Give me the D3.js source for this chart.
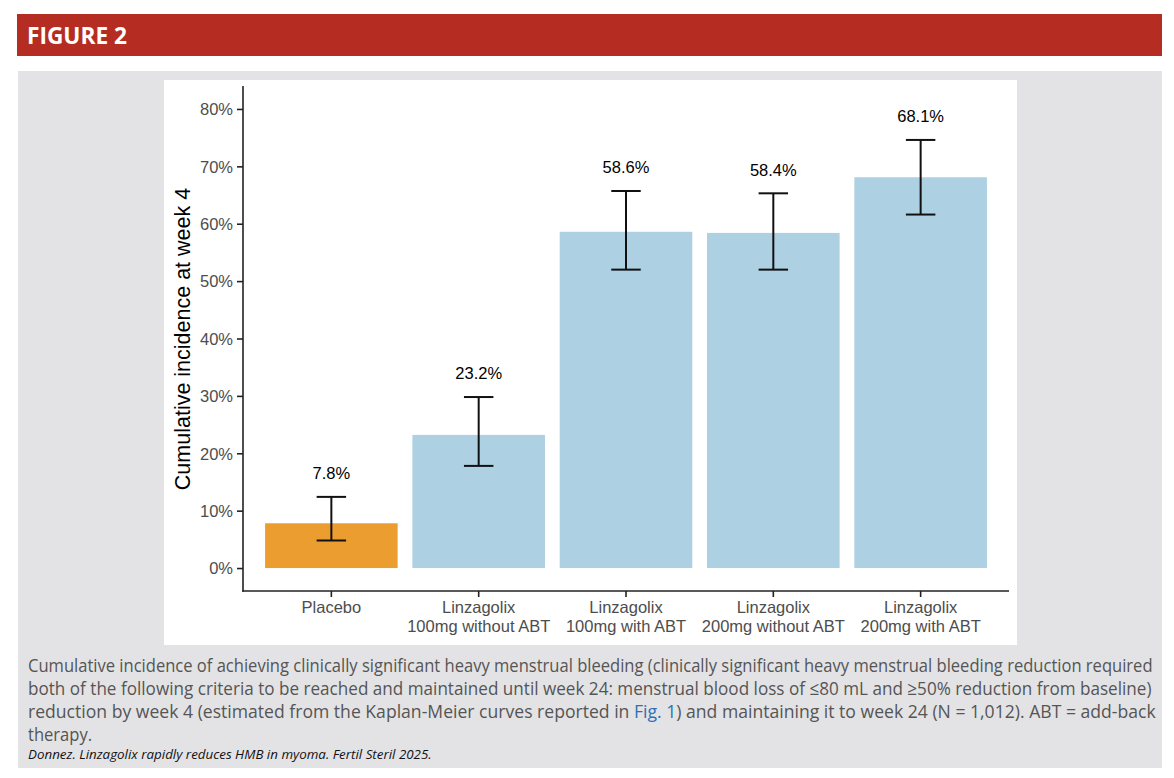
<!DOCTYPE html>
<html lang="en">
<head>
  <meta charset="UTF-8">
  <title>Figure 2</title>
  <style>
    body { margin: 0; background: #fff; }
    svg { display: block; }
    .tick text { font-family: "Liberation Sans", Arial, sans-serif; }
  </style>
  <script src="https://d3js.org/d3.v7.min.js"></script>
</head>
<body>
  <svg id="chart" width="1174" height="778"></svg>
  <script>
    // data
    const categories = ["Placebo", "Linzagolix\n100mg without ABT", "Linzagolix\n100mg with ABT",
                        "Linzagolix\n200mg without ABT", "Linzagolix\n200mg with ABT"];
    const values = [7.8, 23.2, 58.6, 58.4, 68.1];
    const lower = [4.8, 17.8, 52.0, 52.0, 61.6];
    const upper = [12.4, 29.8, 65.7, 65.3, 74.6];
    const yTicks = [0, 10, 20, 30, 40, 50, 60, 70, 80];

    const captionLines = [
      ["Cumulative incidence of achieving clinically significant heavy menstrual bleeding (clinically significant heavy menstrual bleeding reduction required"],
      ["both of the following criteria to be reached and maintained until week 24: menstrual blood loss of \u226480 mL and \u226550% reduction from baseline)"],
      ["reduction by week 4 (estimated from the Kaplan-Meier curves reported in ", "Fig. 1", ") and maintaining it to week 24 (N = 1,012). ABT = add-back"],
      ["therapy."]
    ];
    const source = "Donnez. Linzagolix rapidly reduces HMB in myoma. Fertil Steril 2025.";

    const svg = d3.select('#chart');

    // frame
    svg.append('rect').attr('x', 17).attr('y', 14).attr('width', 1145).attr('height', 42).attr('fill', '#b52d22');
    svg.append('text')
      .attr('x', 27).attr('y', 44)
      .attr('fill', '#fff')
      .style('font-family', '"Open Sans", sans-serif')
      .style('font-weight', 700)
      .style('font-size', '23px')
      .attr('textLength', 100)
      .attr('lengthAdjust', 'spacingAndGlyphs')
      .text('FIGURE 2');
    svg.append('rect').attr('x', 18).attr('y', 71).attr('width', 1144).attr('height', 697).attr('fill', '#e3e3e5');
    svg.append('rect').attr('x', 164).attr('y', 80).attr('width', 853).attr('height', 565).attr('fill', '#fff');

    // scales
    const x = d3.scaleBand()
      .domain(categories)
      .range([257.7, 994.3])
      .paddingInner(0.1)
      .paddingOuter(0.05);
    const y = d3.scaleLinear().domain([-4, 84]).range([591, 86]);
    const color = d3.scaleOrdinal().domain(categories)
      .range(['#eb9e2f', '#add1e3', '#add1e3', '#add1e3', '#add1e3']);

    const g = svg.append('g');

    g.selectAll('rect.bar')
      .data(categories)
      .join('rect')
      .attr('class', 'bar')
      .attr('x', d => x(d))
      .attr('width', x.bandwidth())
      .attr('y', (d, i) => y(values[i]))
      .attr('height', (d, i) => y(0) - y(values[i]))
      .attr('fill', d => color(d));

    // error bars
    const capHalf = x.step() * 0.1;
    const eb = g.append('g').attr('stroke', '#111').attr('stroke-width', 2).attr('fill', 'none');
    categories.forEach((c, i) => {
      const cx = x(c) + x.bandwidth() / 2;
      eb.append('line').attr('x1', cx).attr('x2', cx).attr('y1', y(lower[i])).attr('y2', y(upper[i]));
      eb.append('line').attr('x1', cx - capHalf).attr('x2', cx + capHalf).attr('y1', y(upper[i])).attr('y2', y(upper[i]));
      eb.append('line').attr('x1', cx - capHalf).attr('x2', cx + capHalf).attr('y1', y(lower[i])).attr('y2', y(lower[i]));
    });

    // value labels
    g.selectAll('text.val')
      .data(categories)
      .join('text')
      .attr('class', 'val')
      .attr('x', d => x(d) + x.bandwidth() / 2)
      .attr('y', (d, i) => y(upper[i]) - 17.6)
      .attr('text-anchor', 'middle')
      .style('font-family', '"Liberation Sans", Arial, sans-serif')
      .style('font-size', '16.5px')
      .attr('fill', '#000')
      .text((d, i) => values[i].toFixed(1) + '%');

    // axes
    const yAxis = d3.axisLeft(y).tickValues(yTicks).tickFormat(d => d + '%').tickSize(6).tickPadding(4);
    const xAxis = d3.axisBottom(x).tickSize(6).tickPadding(4).tickFormat('');

    const ya = svg.append('g').attr('transform', 'translate(243,0)').call(yAxis);
    const xa = svg.append('g').attr('transform', 'translate(0,591)').call(xAxis);

    [ya, xa].forEach(a => {
      a.select('.domain').remove();
      a.selectAll('.tick line').attr('stroke', '#222').attr('stroke-width', 1.6);
      a.selectAll('.tick text').attr('fill', '#4d4d4d').style('font-size', '16.5px');
    });
    ya.selectAll('.tick text').attr('dy', '0.35em');

    svg.append('line').attr('x1', 243).attr('x2', 243).attr('y1', 86).attr('y2', 591.8)
      .attr('stroke', '#222').attr('stroke-width', 1.6);
    svg.append('line').attr('x1', 242.2).attr('x2', 1009).attr('y1', 591).attr('y2', 591)
      .attr('stroke', '#222').attr('stroke-width', 1.6);

    // two-line category labels
    xa.selectAll('.tick').each(function(d) {
      const parts = d.split('\n');
      const t = d3.select(this).append('text')
        .attr('text-anchor', 'middle')
        .attr('fill', '#4d4d4d')
        .style('font-family', '"Liberation Sans", Arial, sans-serif')
        .style('font-size', '16.5px');
      parts.forEach((p, k) => {
        t.append('tspan').attr('x', 0).attr('y', 22 + k * 18.5).text(p);
      });
    });

    // y title
    svg.append('text')
      .attr('transform', 'translate(189.5,339) rotate(-90)')
      .attr('text-anchor', 'middle')
      .style('font-family', '"Liberation Sans", Arial, sans-serif')
      .style('font-size', '21.5px')
      .attr('fill', '#000')
      .text('Cumulative incidence at week 4');

    // caption, squeezed to the column width like the condensed journal font
    const capRight = [1153, 1152, 1156];
    const capBase = [672, 695, 718, 741];
    let squeeze = 1;
    captionLines.forEach((parts, i) => {
      const t = svg.append('text')
        .style('font-family', '"Open Sans", sans-serif')
        .style('font-size', '18.5px')
        .attr('fill', '#555');
      parts.forEach((p, k) => {
        t.append('tspan').attr('fill', p === 'Fig. 1' ? '#2b72b3' : '#555').text(p);
      });
      const w = t.node().getComputedTextLength();
      if (i < 3) {
        const s = (capRight[i] - 28) / w;
        if (i === 0) squeeze = s;
        t.attr('transform', `translate(28,${capBase[i]}) scale(${s},1)`);
      } else {
        t.attr('transform', `translate(28,${capBase[i]}) scale(${squeeze},1)`);
      }
    });

    const src = svg.append('text')
      .style('font-family', '"Open Sans", sans-serif')
      .style('font-style', 'italic')
      .style('font-size', '13.5px')
      .attr('fill', '#111')
      .text(source);
    const sw = src.node().getComputedTextLength();
    src.attr('transform', `translate(28,759) scale(${404 / sw},1)`);
  </script>
</body>
</html>
